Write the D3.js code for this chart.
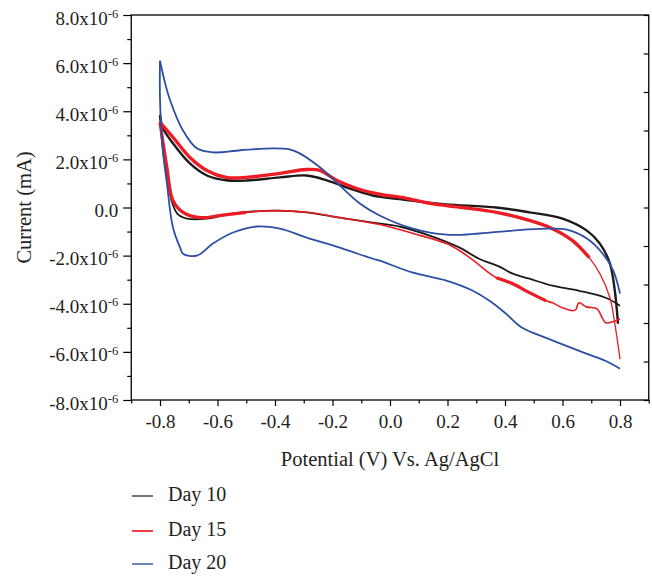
<!doctype html>
<html lang="en">
<head>
<meta charset="utf-8">
<title>Cyclic voltammetry - Day 10 / 15 / 20</title>
<script src="https://cdn.jsdelivr.net/npm/d3@7"></script>
<style>
  body { margin: 0; background: #fff; }
  svg text { font-family: "Liberation Serif", "Times New Roman", serif; fill: #231f20; }
</style>
</head>
<body>
<svg id="chart" width="652" height="576"></svg>
<script>
// current values in units of 1e-6 mA, potential in V
var day10Up = [[-0.800,3.85],[-0.790,3.30],[-0.755,2.67],[-0.696,1.83],[-0.637,1.33],[-0.570,1.13],[-0.500,1.12],
  [-0.383,1.25],[-0.290,1.33],[-0.220,1.13],[-0.150,0.83],[-0.060,0.50],[0.033,0.35],[0.100,0.25],
  [0.196,0.13],[0.370,0.00],[0.485,-0.20],[0.600,-0.46],[0.685,-0.96],[0.730,-1.50],[0.765,-2.33],[0.782,-3.46],
  [0.793,-4.83]];
var day10Down = [[0.800,-4.08],[0.750,-3.75],[0.658,-3.46],[0.565,-3.25],[0.485,-2.96],[0.427,-2.75],
  [0.380,-2.46],[0.310,-2.13],[0.242,-1.67],[0.138,-1.17],[0.036,-0.80],[-0.060,-0.63],[-0.175,-0.42],
  [-0.290,-0.20],[-0.408,-0.13],[-0.546,-0.25],[-0.637,-0.46],[-0.706,-0.46],[-0.740,-0.25],[-0.760,0.29],
  [-0.778,1.40],[-0.792,2.60],[-0.800,3.85]];

var day15Up = [[-0.800,3.54],[-0.755,2.92],[-0.696,2.08],[-0.637,1.54],[-0.570,1.25],[-0.500,1.25],[-0.383,1.42],
  [-0.290,1.58],[-0.244,1.54],[-0.186,1.13],[-0.116,0.79],[-0.036,0.55],[0.050,0.40],[0.138,0.17],[0.253,0.00],
  [0.370,-0.20],[0.485,-0.54],[0.565,-0.88],[0.635,-1.38],[0.693,-2.08],[0.730,-2.75],[0.765,-3.75],[0.782,-4.83],
  [0.800,-6.30]];
var day15Down = [[0.800,-4.63],[0.775,-4.75],[0.750,-4.79],[0.740,-4.63],[0.720,-4.21],[0.683,-4.13],[0.657,-3.96],
  [0.646,-4.25],[0.636,-4.29],[0.600,-4.17],[0.565,-3.96],[0.543,-3.88],[0.485,-3.54],[0.427,-3.17],[0.370,-2.92],
  [0.335,-2.63],[0.300,-2.29],[0.253,-1.88],[0.196,-1.50],[0.080,-1.08],[-0.036,-0.71],[-0.175,-0.42],
  [-0.290,-0.20],[-0.383,-0.13],[-0.500,-0.20],[-0.590,-0.33],[-0.660,-0.42],[-0.720,-0.20],[-0.755,0.29],
  [-0.776,1.67],[-0.800,3.54]];

var day20Up = [[-0.800,6.10],[-0.783,5.20],[-0.765,4.46],[-0.720,3.20],[-0.672,2.46],[-0.616,2.29],[-0.520,2.38],
  [-0.408,2.46],[-0.350,2.42],[-0.314,2.25],[-0.244,1.67],[-0.175,0.92],[-0.105,0.17],[-0.036,-0.33],[0.080,-0.88],
  [0.196,-1.13],[0.311,-1.08],[0.427,-0.96],[0.543,-0.88],[0.615,-0.92],[0.685,-1.29],[0.740,-1.92],[0.777,-2.63],
  [0.800,-3.58]];
var day20Down = [[0.800,-6.70],[0.751,-6.38],[0.658,-5.96],[0.543,-5.42],[0.460,-5.00],[0.404,-4.42],[0.346,-3.88],
  [0.288,-3.46],[0.196,-3.04],[0.080,-2.71],[-0.036,-2.21],[-0.060,-2.13],[-0.175,-1.67],[-0.290,-1.25],
  [-0.383,-0.88],[-0.464,-0.79],[-0.546,-1.04],[-0.616,-1.50],[-0.672,-2.00],[-0.720,-1.92],[-0.730,-1.67],
  [-0.755,-0.83],[-0.776,1.00],[-0.790,2.38],[-0.800,4.50],[-0.800,6.10]];

var seriesNames = ["Day 10", "Day 15", "Day 20"];
var xTicks = [-0.8, -0.6, -0.4, -0.2, 0.0, 0.2, 0.4, 0.6, 0.8];
var yTicks = [-8, -6, -4, -2, 0, 2, 4, 6, 8];

var colors = { "Day 10": "#1e1a1b", "Day 15": "#ec1c24", "Day 20": "#2d4fa3" };

var svg = d3.select("#chart");
var x = d3.scaleLinear().domain([-0.9, 0.9]).range([131.25, 648.75]);
var y = d3.scaleLinear().domain([-8, 8]).range([400, 15]);
var fmt = function(v) { return d3.format(".1f")(v).replace("\u2212", "-"); };

// frame
svg.append("rect").attr("x", x(-0.9)).attr("y", y(8))
  .attr("width", x(0.9) - x(-0.9)).attr("height", y(-8) - y(8))
  .attr("fill", "none").attr("stroke", "#000").attr("stroke-width", 1.3);

// minor ticks
svg.append("g").attr("transform", "translate(0," + y(-8) + ")")
  .call(d3.axisBottom(x).tickValues([-0.9, -0.7, -0.5, -0.3, -0.1, 0.1, 0.3, 0.5, 0.7, 0.9]).tickSize(3.5).tickFormat(""))
  .call(function(g) { g.select(".domain").remove(); });
svg.append("g").attr("transform", "translate(" + x(-0.9) + ",0)")
  .call(d3.axisLeft(y).tickValues([-7, -5, -3, -1, 1, 3, 5, 7]).tickSize(4).tickFormat(""))
  .call(function(g) { g.select(".domain").remove(); });

// inward ticks on the right edge of the frame
var yRight = d3.scaleLinear().domain([0, 10]).range([400, 15]);
svg.append("g").attr("transform", "translate(" + x(0.9) + ",0)")
  .call(d3.axisLeft(yRight).ticks(10).tickSize(5).tickFormat(""))
  .call(function(g) { g.select(".domain").remove(); });

// x axis
var gx = svg.append("g").attr("transform", "translate(0," + y(-8) + ")")
  .call(d3.axisBottom(x).tickValues(xTicks).tickSize(6).tickPadding(9).tickFormat(fmt));
gx.select(".domain").remove();
gx.selectAll("text").attr("font-size", 19).attr("font-family", null);

// y axis
var gy = svg.append("g").attr("transform", "translate(" + x(-0.9) + ",0)")
  .call(d3.axisLeft(y).tickValues(yTicks).tickSize(8).tickPadding(5).tickFormat(""));
gy.select(".domain").remove();
gy.selectAll(".tick").each(function(d) {
  var t = d3.select(this).append("text").attr("x", -13).attr("y", 3).attr("dy", "0.32em")
    .attr("text-anchor", "end").attr("font-size", 19);
  if (d === 0) {
    t.text("0.0");
  } else {
    t.append("tspan").text(fmt(d) + "x10");
    t.append("tspan").attr("dy", "-0.55em").attr("font-size", 12.5).text("-6");
  }
});
svg.selectAll(".tick line").attr("stroke", "#000").attr("stroke-width", 1.2);

// axis titles
svg.append("text").attr("x", 390).attr("y", 466).attr("text-anchor", "middle")
  .attr("font-size", 20.5).text("Potential (V) Vs. Ag/AgCl");
svg.append("text").attr("transform", "translate(31," + y(0) + ") rotate(-90)")
  .attr("text-anchor", "middle").attr("font-size", 20.5).text("Current (mA)");

// curves
var line = d3.line().x(function(d) { return x(d[0]); }).y(function(d) { return y(d[1]); })
  .curve(d3.curveCatmullRom.alpha(0.5));

var branches = [
  { name: "Day 10", data: day10Down, w: 1.8 },
  { name: "Day 10", data: day10Up, w: 2.4 },
  { name: "Day 15", data: day15Down, w: 1.6 },
  { name: "Day 15", data: day15Down.filter(function(d) { return d[0] < -0.45 || (d[0] > 0.34 && d[0] < 0.56); }), w: 3.2 },
  { name: "Day 15", data: day15Up, w: 1.3 },
  { name: "Day 15", data: day15Up.filter(function(d) { return d[0] < 0.72; }), w: 3.4 },
  { name: "Day 20", data: day20Up, w: 1.8 },
  { name: "Day 20", data: day20Down, w: 1.8 }
];
svg.append("g").selectAll("path").data(branches).enter().append("path")
  .attr("d", function(b) {
    // split a filtered branch where it jumps so that gaps are not bridged
    var parts = [[]];
    b.data.forEach(function(d, i) {
      if (i > 0 && Math.abs(d[0] - b.data[i - 1][0]) > 0.2) parts.push([]);
      parts[parts.length - 1].push(d);
    });
    return parts.map(function(p) { return line(p); }).join("");
  })
  .attr("fill", "none")
  .attr("stroke", function(b) { return colors[b.name]; })
  .attr("stroke-width", function(b) { return b.w; })
  .attr("stroke-linejoin", "round");

// legend
var legendW = { "Day 10": 1.2, "Day 15": 1.7, "Day 20": 1.4 };
var lg = svg.append("g").selectAll("g").data(seriesNames).enter().append("g")
  .attr("transform", function(d, i) { return "translate(132," + [496, 531, 564][i] + ")"; });
lg.append("line").attr("x1", 0).attr("x2", 21)
  .attr("stroke", function(d) { return colors[d]; })
  .attr("stroke-width", function(d) { return legendW[d]; });
lg.append("text").attr("x", 36).attr("y", 5).attr("font-size", 20).text(function(d) { return d; });
</script>
</body>
</html>
